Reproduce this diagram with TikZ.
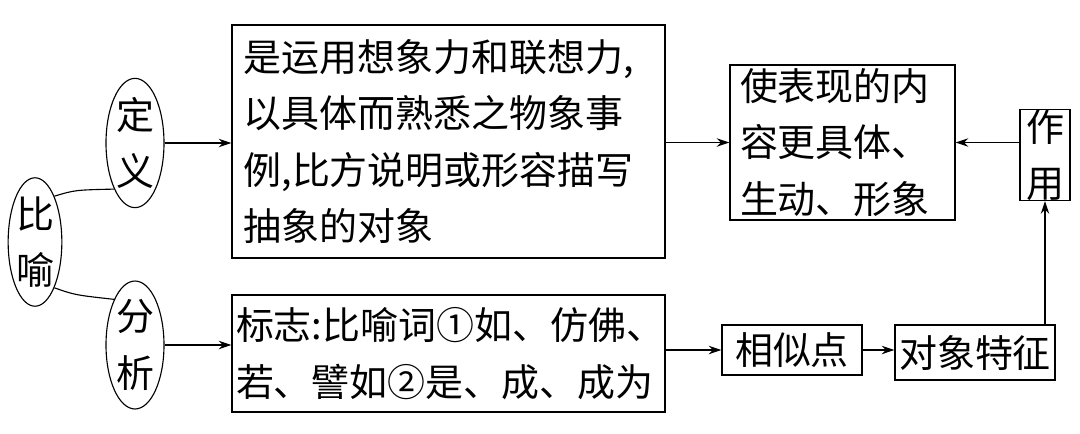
\documentclass[tikz,border=0pt]{standalone}
\usepackage{fontspec}
\setmainfont{Liberation Serif}
\newfontfamily\cjk{Noto Sans CJK SC}
\usetikzlibrary{shapes.geometric,arrows.meta}

\begin{document}
\begin{tikzpicture}[x=0.025cm, y=-0.025cm,
        txt/.style={font=\cjk\fontsize{27}{40}\selectfont},
        oval/.style={draw, thick, ellipse, inner sep=0pt, txt},
        box/.style={draw, thick, rectangle, inner sep=0pt, txt},
        arr/.style={thick, -{Stealth[length=9pt,width=6pt]}}
    ]
    \useasboundingbox (0,0) rectangle (1080,434);

    \node[oval, minimum width=50*0.025cm, minimum height=110*0.025cm, align=center] (bi) at (35,242) {比\\喻};
    \node[oval, minimum width=58*0.025cm, minimum height=100*0.025cm, align=center] (dy) at (135,143) {定\\义};
    \node[oval, minimum width=58*0.025cm, minimum height=100*0.025cm, align=center] (fx) at (135,345) {分\\析};

    \node[box, minimum width=433*0.025cm, minimum height=233*0.025cm, text width=410*0.025cm, align=left] (def) at (448.5,141.5) {是运用想象力和联想力,\\以具体而熟悉之物象事\\例,比方说明或形容描写\\抽象的对象};
    \node[box, minimum width=225*0.025cm, minimum height=155*0.025cm, text width=205*0.025cm, align=left] (eff) at (842.5,142.5) {使表现的内\\容更具体、\\生动、形象};
    \node[box, minimum width=50*0.025cm, minimum height=90*0.025cm, align=center] (zy) at (1045,155) {作\\用};
    \node[box, minimum width=433*0.025cm, minimum height=117*0.025cm, text width=425*0.025cm, align=left] (mark) at (448.5,353.5) {标志:比喻词①如、仿佛、\\若、譬如②是、成、成为};
    \node[box, minimum width=140*0.025cm, minimum height=50*0.025cm] (xs) at (792,350) {相似点};
    \node[box, minimum width=160*0.025cm, minimum height=55*0.025cm] (tz) at (975,352.5) {对象特征};

    % connectors
    \draw[thick] (bi.north east) .. controls (75,190) .. (dy.south west);
    \draw[thick] (bi.south east) .. controls (75,295) .. (fx.north west);
    \draw[arr] (dy.east) -- (def.west |- dy.east);
    \draw[arr] (fx.east) -- (mark.west |- fx.east);
    \draw[arr] (def.east |- eff.west) -- (eff.west);
    \draw[arr] (zy.west |- eff.east) -- (eff.east);
    \draw[arr] (mark.east |- xs.west) -- (xs.west);
    \draw[arr] (xs.east) -- (tz.west |- xs.east);
    \draw[arr] (tz.north -| zy.south) -- (zy.south);
\end{tikzpicture}
\end{document}
